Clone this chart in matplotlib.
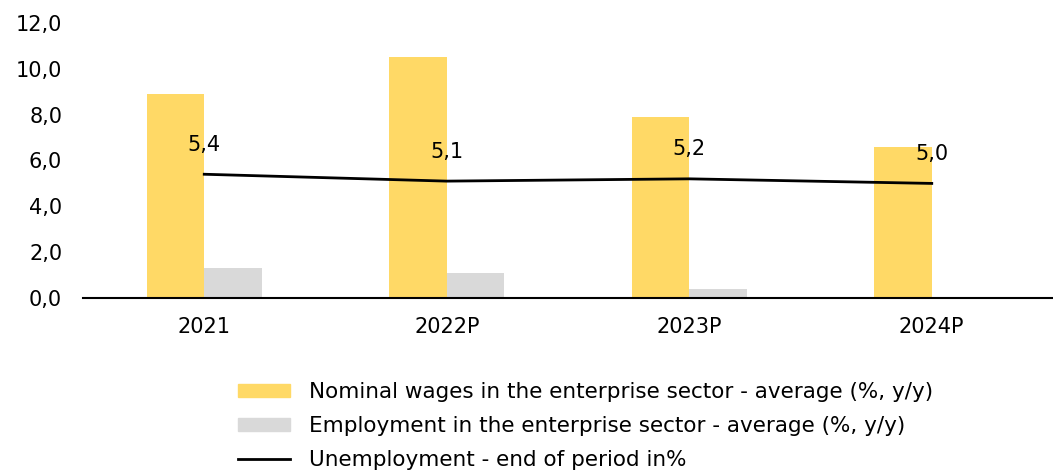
import matplotlib
matplotlib.use("Agg")
import matplotlib.pyplot as plt
from matplotlib.patches import Patch
from matplotlib.lines import Line2D
import numpy as np

years = ["2021", "2022P", "2023P", "2024P"]
wages = [8.9, 10.5, 7.9, 6.6]
employment = [1.3, 1.1, 0.4, 0.0]
unemployment = [5.4, 5.1, 5.2, 5.0]

yellow = "#FFD966"
grey = "#D9D9D9"

fig = plt.figure(figsize=(10.53, 4.74), dpi=100)
ax = fig.add_axes([83 / 1053, 1 - 298 / 474, (1053 - 83) / 1053, 275 / 474])

x = np.arange(len(years))
w = 0.238
ax.bar(x - w / 2, wages, w, color=yellow)
ax.bar(x + w / 2, employment, w, color=grey)
ax.plot(x, unemployment, color="black", lw=2)
for xi, v in zip(x, unemployment):
    ax.annotate(f"{v:.1f}".replace(".", ","), (xi, v), xytext=(0, 14),
                textcoords="offset points", ha="center", va="bottom", fontsize=15)

ax.set_xlim(-0.5, 3.5)
ax.set_ylim(0, 12)
ax.set_yticks(np.arange(0, 12.1, 2))
ax.set_yticklabels([f"{t:.1f}".replace(".", ",") for t in np.arange(0, 12.1, 2)])
ax.set_xticks(x)
ax.set_xticklabels(years)
ax.tick_params(axis="both", length=0, labelsize=15)
ax.tick_params(axis="x", pad=14)
ax.tick_params(axis="y", pad=15)
for s in ["top", "right", "left"]:
    ax.spines[s].set_visible(False)
ax.spines["bottom"].set_linewidth(1.5)

handles = [Patch(color=yellow), Patch(color=grey), Line2D([], [], color="black", lw=2)]
labels = ["Nominal wages in the enterprise sector - average (%, y/y)",
          "Employment in the enterprise sector - average (%, y/y)",
          "Unemployment - end of period in%"]
fig.legend(handles, labels, loc="upper left", bbox_to_anchor=(219 / 1053, 1 - 363 / 474),
           frameon=False, handlelength=2.4, handleheight=0.55,
           handletextpad=0.9, labelspacing=0.65,
           prop={"family": ["DejaVu Sans"], "size": 15.5})

fig.savefig("out.png", dpi=100)
